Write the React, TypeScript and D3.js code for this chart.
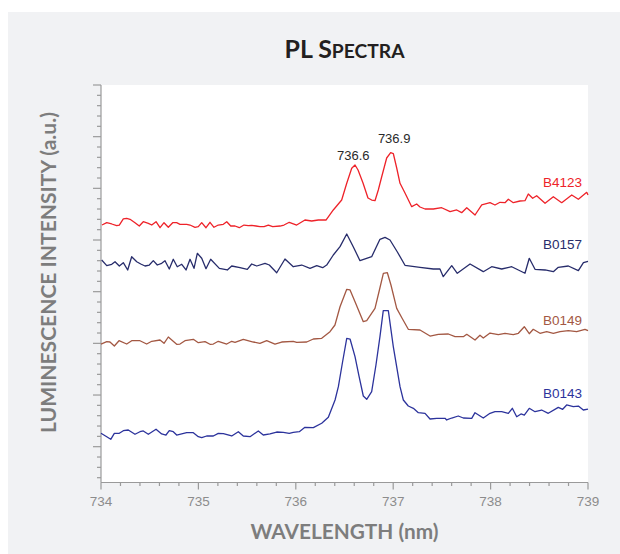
import React from "react";
import * as d3 from "d3";

// ---- data (wavelength in nm, intensity in arbitrary offset units) ----
const b4123Wl = [734.01,734.059,734.11,734.161,734.188,734.229,734.264,734.298,734.349,734.393,734.434,734.486,734.521,734.565,734.606,734.647,734.691,734.736,734.777,734.811,734.88,734.914,734.965,734.999,735.034,735.078,735.119,735.16,735.204,735.256,735.291,735.332,735.376,735.42,735.468,735.512,735.547,735.591,735.632,735.674,735.718,735.763,735.838,735.879,735.933,736.009,736.094,736.163,736.231,736.31,736.385,736.471,736.523,736.574,736.608,736.639,736.69,736.741,736.779,736.813,736.847,736.882,736.933,736.974,737.001,737.036,737.07,737.121,737.19,737.241,737.275,737.327,737.412,737.498,737.584,737.652,737.703,737.755,737.84,737.909,737.994,738.045,738.097,738.148,738.182,738.233,738.302,738.353,738.387,738.432,738.473,738.559,738.644,738.73,738.833,738.901,738.987,739.0];
const b4123Int = [5.29,5.335,5.31,5.277,5.29,5.407,5.42,5.401,5.335,5.271,5.354,5.323,5.29,5.354,5.238,5.335,5.246,5.335,5.335,5.304,5.304,5.29,5.246,5.258,5.335,5.238,5.343,5.246,5.29,5.304,5.354,5.271,5.271,5.238,5.29,5.277,5.285,5.271,5.258,5.258,5.29,5.258,5.271,5.29,5.343,5.29,5.387,5.368,5.387,5.387,5.581,5.774,6.098,6.388,6.452,6.355,6.103,5.813,5.774,5.761,5.968,6.225,6.587,6.69,6.674,6.394,6.098,5.91,5.645,5.697,5.639,5.6,5.6,5.625,5.548,5.581,5.529,5.625,5.484,5.678,5.722,5.678,5.73,5.722,5.788,5.722,5.755,5.761,5.891,5.807,5.857,5.711,5.838,5.722,5.871,5.788,5.923,5.871];

const b0157Wl = [734.007,734.059,734.11,734.144,734.188,734.229,734.274,734.315,734.367,734.408,734.452,734.496,734.537,734.578,734.623,734.657,734.701,734.742,734.783,734.829,734.873,734.914,734.955,734.989,735.034,735.078,735.126,735.215,735.297,735.342,735.427,735.502,735.547,735.599,735.684,735.728,735.804,735.889,735.974,736.061,736.146,736.215,736.276,736.317,736.385,736.454,736.523,736.591,736.659,736.779,736.864,736.916,736.967,737.043,737.121,737.275,737.412,737.48,737.514,737.601,737.658,737.789,737.925,738.011,738.114,738.217,738.353,738.397,738.456,738.559,738.644,738.695,738.798,738.901,738.953,739.0];
const b0157Int = [4.613,4.503,4.53,4.58,4.497,4.561,4.42,4.677,4.58,4.536,4.497,4.516,4.6,4.516,4.549,4.6,4.439,4.627,4.483,4.53,4.42,4.627,4.452,4.743,4.646,4.445,4.627,4.452,4.42,4.497,4.464,4.433,4.536,4.497,4.549,4.516,4.367,4.632,4.483,4.516,4.452,4.503,4.464,4.516,4.71,4.871,5.116,4.865,4.6,4.677,5.014,5.052,5.0,4.768,4.511,4.472,4.439,4.439,4.29,4.503,4.356,4.536,4.387,4.483,4.439,4.483,4.356,4.646,4.433,4.42,4.387,4.472,4.497,4.406,4.561,4.588];

const b0149Wl = [734.0,734.059,734.092,734.137,734.185,734.264,734.315,734.4,734.469,734.521,734.606,734.647,734.691,734.777,734.811,734.862,734.948,734.999,735.068,735.119,735.153,735.204,735.291,735.342,735.376,735.461,735.564,735.632,735.701,735.786,735.855,735.974,736.009,736.112,736.18,736.266,736.351,736.402,736.454,736.523,736.557,736.608,736.693,736.728,736.813,736.856,736.899,736.94,736.977,737.036,737.09,737.155,737.275,737.378,737.463,737.566,737.635,737.72,737.755,737.84,737.891,737.925,737.994,738.079,738.148,738.233,738.285,738.346,738.397,738.438,738.507,738.576,738.644,738.713,738.798,738.884,738.969,739.0];
const b0149Int = [2.987,3.032,3.026,2.949,3.051,2.987,3.051,3.051,2.987,3.04,3.065,3.001,3.123,2.982,2.987,3.051,3.078,3.013,3.032,2.982,2.987,3.04,2.987,3.04,3.02,3.078,3.026,3.001,3.051,2.987,3.026,3.04,3.02,3.026,3.084,3.098,3.225,3.355,3.709,4.046,4.033,3.806,3.419,3.438,3.678,4.013,4.356,4.367,4.129,3.678,3.491,3.272,3.258,3.142,3.175,3.181,3.129,3.129,3.175,3.065,3.156,3.104,3.2,3.167,3.195,3.167,3.195,3.322,3.187,3.272,3.195,3.225,3.195,3.225,3.245,3.225,3.272,3.245];

const b0143Wl = [734.0,734.059,734.1,734.137,734.188,734.229,734.28,734.349,734.4,734.434,734.486,734.565,734.623,734.667,734.701,734.742,734.777,734.88,734.948,734.999,735.034,735.085,735.153,735.204,735.256,735.342,735.41,735.461,735.53,735.615,735.666,735.735,735.804,735.872,735.933,735.974,736.036,736.094,736.18,736.266,736.334,736.403,736.437,736.48,736.523,736.557,736.608,736.649,736.693,736.728,736.779,736.823,736.864,736.898,736.95,737.001,737.07,737.104,737.155,737.207,737.258,737.327,737.378,737.447,737.532,737.549,737.601,737.668,737.72,737.806,737.84,737.925,737.994,738.045,738.114,738.182,738.223,738.268,738.312,738.346,738.397,738.456,738.524,738.592,738.695,738.74,738.781,738.849,738.901,738.952,739.0];
const b0143Int = [1.259,1.193,1.143,1.259,1.259,1.309,1.323,1.24,1.29,1.304,1.24,1.337,1.246,1.226,1.309,1.29,1.226,1.271,1.271,1.193,1.174,1.207,1.207,1.259,1.251,1.207,1.29,1.207,1.193,1.304,1.226,1.246,1.284,1.278,1.259,1.278,1.29,1.375,1.368,1.453,1.569,1.904,2.161,2.639,3.098,3.084,2.742,2.368,1.981,1.917,2.064,2.581,3.129,3.632,3.632,2.935,2.161,1.904,1.787,1.743,1.658,1.646,1.536,1.549,1.549,1.517,1.555,1.594,1.555,1.549,1.658,1.555,1.646,1.677,1.677,1.646,1.743,1.58,1.633,1.613,1.743,1.677,1.71,1.646,1.762,1.724,1.807,1.774,1.787,1.71,1.729];

const seriesNames = ["B4123", "B0157", "B0149", "B0143"];
const seriesColors = ["#ee2229", "#272c6b", "#a35843", "#2c339c"];
const seriesLabelLevels = [6.03, 4.82, 3.35, 1.94];
const peakLabels = ["736.6", "736.9"];
const peakLabelWl = [736.59, 737.01];
const peakLabelLevels = [6.55, 6.88];
const xTickValues = [734, 735, 736, 737, 738, 739];

const W = 620;
const H = 554;
const M = { left: 101, right: 588, top: 85, bottom: 482.5 };

export default function App() {
  const x = d3.scaleLinear().domain([734, 739]).range([M.left, M.right]);
  const y = d3.scaleLinear().domain([0.307, 8]).range([M.bottom, M.top]);
  const wls = [b4123Wl, b0157Wl, b0149Wl, b0143Wl];
  const ints = [b4123Int, b0157Int, b0149Int, b0143Int];
  const line = d3
    .line<[number, number]>()
    .x((d) => x(d[0]))
    .y((d) => y(d[1]));

  const xMinor = d3.range(0, 26).map((i) => 734 + i * 0.2);
  const yMinor = d3.range(0, 39).map((i) => 0.4 + i * 0.2);
  const isMajor = (v: number) => Math.abs(v - Math.round(v)) < 1e-6;
  const axisColor = "#9a9a9a";
  const sans = "'Liberation Sans', Arial, sans-serif";
  const titleFont = "Lato, 'Open Sans', sans-serif";

  return (
    <svg
      width={W}
      height={H}
      style={{ position: "absolute", left: 0, top: 0 }}
      xmlns="http://www.w3.org/2000/svg"
    >
      <rect x={0} y={0} width={W} height={H} fill="#ffffff" />
      <rect x={8} y={12} width={W - 8} height={H - 12} fill="#f1f2f4" />
      <rect
        x={M.left}
        y={M.top}
        width={M.right - M.left}
        height={M.bottom - M.top}
        fill="#ffffff"
      />
      <text
        x={(M.left + M.right) / 2}
        y={58}
        textAnchor="middle"
        fontFamily={titleFont}
        fontWeight={700}
        fill="#231f20"
        textLength={120}
        lengthAdjust="spacingAndGlyphs"
      >
        <tspan fontSize={24}>PL S</tspan>
        <tspan fontSize={18.5}>PECTRA</tspan>
      </text>

      {/* x axis */}
      <line x1={M.left} x2={M.right} y1={M.bottom} y2={M.bottom} stroke={axisColor} strokeWidth={1.2} />
      {xMinor.map((v, i) => (
        <line
          key={"xt" + i}
          x1={x(v)}
          x2={x(v)}
          y1={M.bottom}
          y2={M.bottom + (isMajor(v) ? 7 : 3.5)}
          stroke={axisColor}
          strokeWidth={1.2}
        />
      ))}
      {xTickValues.map((v) => (
        <text
          key={"xl" + v}
          x={x(v)}
          y={505.5}
          textAnchor="middle"
          fontFamily={sans}
          fontSize={13.5}
          fill="#8c8c8c"
        >
          {v}
        </text>
      ))}
      <text
        x={(M.left + M.right) / 2}
        y={538.5}
        textAnchor="middle"
        fontFamily={titleFont}
        fontWeight={700}
        fontSize={20}
        fill="#7d7d7d"
        textLength={188}
        lengthAdjust="spacingAndGlyphs"
      >
        WAVELENGTH (nm)
      </text>

      {/* y axis */}
      <line x1={M.left} x2={M.left} y1={M.top} y2={M.bottom} stroke={axisColor} strokeWidth={1.2} />
      {yMinor.map((v, i) => (
        <line
          key={"yt" + i}
          x1={M.left - (isMajor(v) ? 8 : 4)}
          x2={M.left}
          y1={y(v)}
          y2={y(v)}
          stroke={axisColor}
          strokeWidth={1.2}
        />
      ))}
      <text
        transform={`translate(55.5, 272.5) rotate(-90)`}
        textAnchor="middle"
        fontFamily={titleFont}
        fontWeight={700}
        fontSize={20}
        fill="#7d7d7d"
        textLength={321}
        lengthAdjust="spacingAndGlyphs"
      >
        LUMINESCENCE INTENSITY (a.u.)
      </text>

      {/* series */}
      {seriesNames.map((name, si) => {
        const pts = wls[si].map((w, i) => [w, ints[si][i]] as [number, number]);
        return (
          <g key={name}>
            <path
              d={line(pts) || ""}
              fill="none"
              stroke={seriesColors[si]}
              strokeWidth={1.3}
              strokeLinejoin="round"
            />
            <text
              x={x(738.94)}
              y={y(seriesLabelLevels[si])}
              textAnchor="end"
              fontFamily={sans}
              fontSize={13.5}
              fill={seriesColors[si]}
            >
              {name}
            </text>
          </g>
        );
      })}

      {peakLabels.map((t, i) => (
        <text
          key={t}
          x={x(peakLabelWl[i])}
          y={y(peakLabelLevels[i])}
          textAnchor="middle"
          fontFamily={sans}
          fontSize={13}
          fill="#2a2a2a"
        >
          {t}
        </text>
      ))}
    </svg>
  );
}
